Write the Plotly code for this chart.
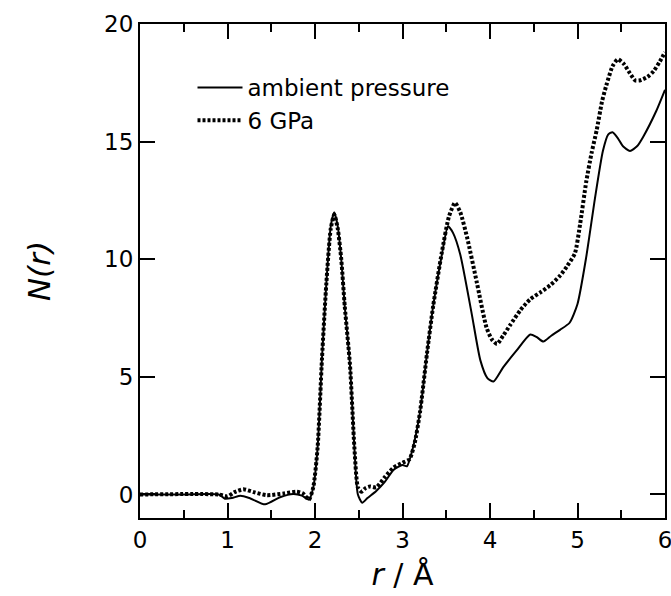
import plotly.graph_objects as go

# Running coordination number N(r) at ambient pressure and at 6 GPa
r_ambient = [0.0, 0.5, 0.9, 0.97, 1.05, 1.15, 1.25, 1.43, 1.6, 1.75, 1.85, 1.93,
             1.98, 2.03, 2.08, 2.13, 2.18, 2.22, 2.26, 2.30, 2.34, 2.40, 2.45, 2.49,
             2.54, 2.6, 2.7, 2.8, 2.9, 3.0, 3.05, 3.12, 3.2, 3.28, 3.35, 3.45,
             3.52, 3.58, 3.66, 3.79, 3.89, 3.97, 4.04, 4.15, 4.3, 4.46, 4.53, 4.61,
             4.7, 4.8, 4.91, 5.0, 5.1, 5.2, 5.29, 5.35, 5.4, 5.46, 5.52, 5.6,
             5.68, 5.75, 5.9, 6.0]
n_ambient = [0.0, 0.0, 0.0, -0.18, -0.15, -0.05, -0.15, -0.42, -0.12, 0.02, -0.05, -0.22,
             0.3, 2.0, 5.8, 9.0, 11.4, 12.0, 11.4, 10.0, 8.0, 5.5, 2.0, 0.0,
             -0.35, -0.15, 0.15, 0.55, 1.05, 1.25, 1.2, 2.0, 3.5, 6.0, 8.0, 10.2,
             11.4, 11.1, 10.2, 7.7, 5.7, 4.95, 4.8, 5.4, 6.1, 6.8, 6.7, 6.5,
             6.75, 7.0, 7.3, 8.1, 10.1, 12.6, 14.6, 15.3, 15.4, 15.15, 14.8, 14.6,
             14.8, 15.2, 16.3, 17.2]

r_6gpa = [0.0, 0.9, 1.0, 1.08, 1.18, 1.3, 1.45, 1.64, 1.79, 1.86, 1.93, 1.98,
          2.03, 2.08, 2.13, 2.18, 2.22, 2.26, 2.30, 2.34, 2.40, 2.45, 2.49, 2.53,
          2.58, 2.63, 2.7, 2.8, 2.9, 3.0, 3.08, 3.14, 3.2, 3.28, 3.35, 3.45,
          3.53, 3.6, 3.66, 3.74, 3.85, 3.96, 4.02, 4.08, 4.15, 4.23, 4.35, 4.46,
          4.58, 4.69, 4.8, 4.88, 4.97, 5.03, 5.1, 5.16, 5.22, 5.28, 5.33, 5.4,
          5.46, 5.53, 5.6, 5.66, 5.71, 5.8, 5.87, 5.94, 6.0]
n_6gpa = [0.0, 0.0, -0.08, 0.1, 0.22, 0.1, -0.03, 0.04, 0.12, 0.05, -0.22, 0.3,
          2.0, 5.8, 9.0, 11.3, 11.9, 11.3, 10.0, 8.0, 5.5, 2.0, 0.3, 0.12,
          0.28, 0.34, 0.3, 0.75, 1.15, 1.35, 1.5, 2.2, 3.5, 6.0, 8.0, 10.3,
          11.8, 12.4, 12.0, 10.9, 9.0, 7.1, 6.6, 6.4, 6.75, 7.2, 7.85, 8.3,
          8.6, 8.9, 9.3, 9.7, 10.25, 11.5, 13.3, 14.5, 15.5, 16.7, 17.4, 18.2,
          18.5, 18.3, 17.9, 17.6, 17.6, 17.75, 18.0, 18.4, 18.8]

x_ticks = [0, 1, 2, 3, 4, 5, 6]
y_ticks = [0, 5, 10, 15, 20]

FONT = "DejaVu Sans, Verdana, sans-serif"

fig = go.Figure()
fig.add_trace(go.Scatter(
    x=r_ambient, y=n_ambient, mode="lines", name="ambient pressure",
    line=dict(color="black", width=2, shape="spline", smoothing=0.6),
))
fig.add_trace(go.Scatter(
    x=r_6gpa, y=n_6gpa, mode="lines", name="6 GPa",
    line=dict(color="black", width=4, dash="3px,2px", shape="spline", smoothing=0.6),
))

axis_common = dict(
    showline=True, linecolor="black", linewidth=2, mirror="ticks",
    ticks="inside", ticklen=15, tickwidth=2, tickcolor="black",
    showgrid=False, zeroline=False, automargin=False,
    ticklabeloverflow="allow",
    tickfont=dict(family=FONT, size=23, color="black"),
)

fig.update_xaxes(
    range=[0, 6], tickvals=x_ticks, ticktext=[str(v) for v in x_ticks],
    minor=dict(ticks="inside", ticklen=8, tickwidth=2, dtick=0.5, tickcolor="black", showgrid=False),
    title=dict(text="<i>r</i> / Å", font=dict(family=FONT, size=30, color="black"), standoff=12),
    **axis_common,
)
fig.update_yaxes(
    range=[-1, 20], tickvals=y_ticks, ticktext=[str(v) for v in y_ticks],
    title=dict(text="<i>N(r)</i>", font=dict(family=FONT, size=31, color="black"), standoff=44),
    **axis_common,
)

fig.update_layout(
    width=671, height=596,
    margin=dict(l=140, r=6, t=24, b=78),
    paper_bgcolor="white", plot_bgcolor="white",
    showlegend=True,
    legend=dict(
        x=0.10, y=0.915, xanchor="left", yanchor="top",
        font=dict(family=FONT, size=23, color="black"),
        bgcolor="rgba(0,0,0,0)", tracegroupgap=0, itemwidth=45,
    ),
)

fig.write_html("out.html")
